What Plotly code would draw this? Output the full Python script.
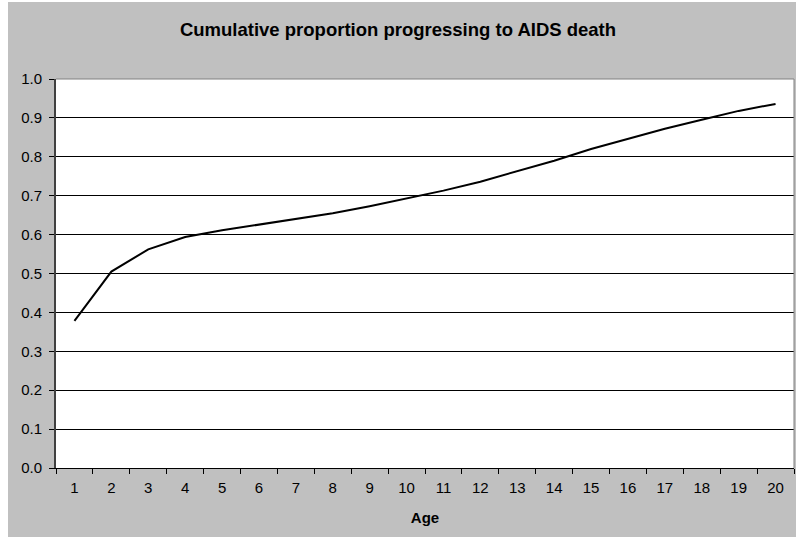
import plotly.graph_objects as go

# Age in years and the cumulative proportion progressing to AIDS death
ages = [str(a) for a in range(1, 21)]
cum_prop = [0.378, 0.505, 0.562, 0.594, 0.611, 0.626, 0.640, 0.655, 0.673, 0.693,
            0.713, 0.736, 0.763, 0.790, 0.820, 0.847, 0.872, 0.895, 0.918, 0.936]
y_ticks = [round(i * 0.1, 1) for i in range(11)]

W, H = 796, 539
L, R, T, B = 56, 2, 79, 71
PW, PH = W - L - R, H - T - B


def px(x):
    return (x - L) / PW


def py(y):
    return (H - B - y) / PH


FONT = "Liberation Sans, Arial, sans-serif"
GRAY = "#c0c0c0"

fig = go.Figure()
fig.add_trace(go.Scatter(
    x=ages, y=cum_prop, mode="lines",
    line=dict(color="black", width=2),
    showlegend=False, hoverinfo="skip",
))

shapes = [
    # white margins around the grey chart area
    dict(type="rect", xref="paper", yref="paper", x0=px(0), x1=px(8), y0=py(H), y1=py(0),
         fillcolor="white", line=dict(width=0), layer="below"),
    dict(type="rect", xref="paper", yref="paper", x0=px(0), x1=px(W), y0=py(2), y1=py(0),
         fillcolor="white", line=dict(width=0), layer="below"),
    dict(type="rect", xref="paper", yref="paper", x0=px(0), x1=px(W), y0=py(H), y1=py(537),
         fillcolor="white", line=dict(width=0), layer="below"),
    # plot area frame (top and right)
    dict(type="line", xref="paper", yref="paper", x0=0, x1=1, y0=1, y1=1,
         line=dict(color="#808080", width=1)),
    dict(type="line", xref="paper", yref="paper", x0=1, x1=1, y0=0, y1=1,
         line=dict(color="#808080", width=1)),
]

fig.update_layout(
    width=W, height=H,
    margin=dict(l=L, r=R, t=T, b=B, pad=0),
    paper_bgcolor=GRAY, plot_bgcolor="white",
    font=dict(family=FONT, size=15, color="black"),
    title=dict(text="<b>Cumulative proportion progressing to AIDS death</b>",
               x=0.5, xref="container", xanchor="center",
               y=1 - 30 / H, yref="container", yanchor="middle",
               font=dict(family=FONT, size=18.5, color="black")),
    shapes=shapes,
    xaxis=dict(
        type="category", categoryorder="array", categoryarray=ages,
        range=[-0.5, len(ages) - 0.5],
        tickson="boundaries", ticks="outside", ticklen=5, tickcolor="black",
        showline=True, linecolor="black", linewidth=1,
        showgrid=False, zeroline=False,
        tickfont=dict(size=15), ticklabelstandoff=6,
        title=dict(text="<b>Age</b>", font=dict(size=15), standoff=17),
    ),
    yaxis=dict(
        range=[0, 1], tickvals=y_ticks, tickformat=".1f",
        ticks="outside", ticklen=5, tickcolor="black",
        showline=True, linecolor="#404040", linewidth=2,
        showgrid=True, gridcolor="black", gridwidth=1,
        zeroline=False, tickfont=dict(size=15), ticklabelstandoff=4,
    ),
)

fig.write_html("out.html")
